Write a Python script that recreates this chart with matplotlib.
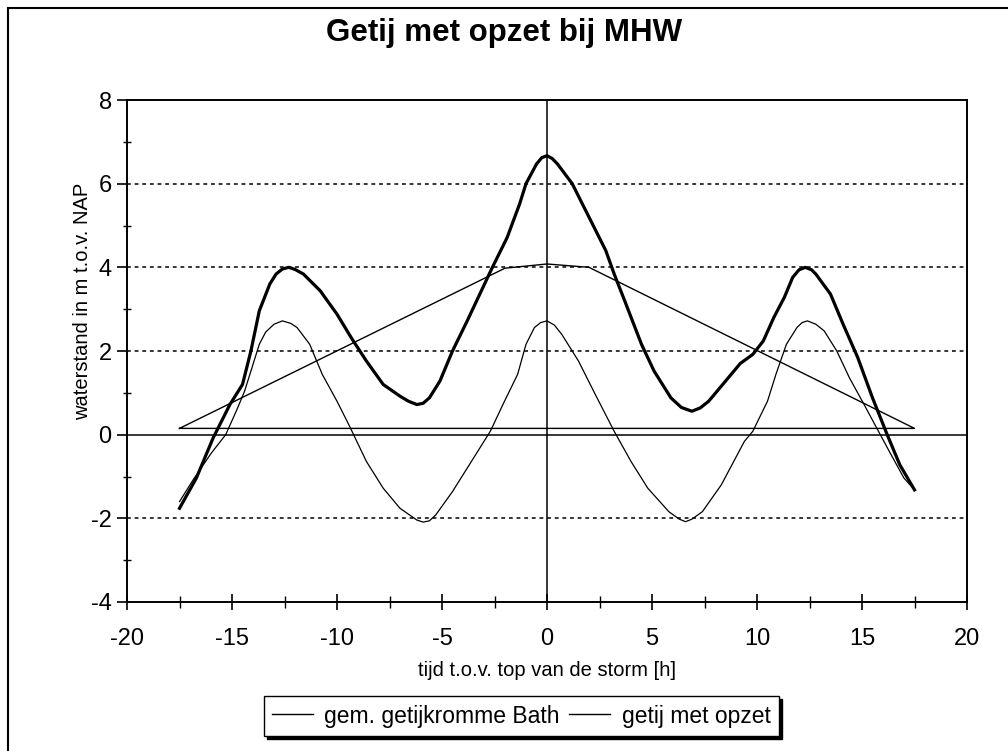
import matplotlib
matplotlib.use("Agg")
import matplotlib.pyplot as plt
from matplotlib.patches import Rectangle
from matplotlib.ticker import MultipleLocator

plt.rcParams['font.family'] = ['Liberation Sans', 'DejaVu Sans']
plt.rcParams['axes.unicode_minus'] = False

# ---- data ----
t_bath = [-17.5, -16.8, -16.0, -15.3, -14.8, -14.4, -14.0, -13.7, -13.4, -13.0, -12.6,
          -12.2, -11.9, -11.3, -10.7, -10.0, -9.4, -8.6, -7.8, -7.0, -6.2, -5.9, -5.6,
          -5.3, -4.5, -3.7, -2.7, -2.1, -1.4, -1.0, -0.6, -0.3, 0.0, 0.35, 0.7, 1.5,
          2.3, 3.2, 4.0, 4.8, 5.8, 6.3, 6.6, 6.9, 7.4, 8.3, 9.4, 9.8, 10.5, 10.9, 11.4,
          11.9, 12.15, 12.4, 12.8, 13.2, 13.8, 14.4, 15.1, 15.7, 16.3, 17.0, 17.5]
h_bath = [-1.6, -1.04, -0.45, 0.0, 0.56, 1.04, 1.68, 2.16, 2.45, 2.64, 2.72,
          2.66, 2.56, 2.16, 1.44, 0.8, 0.2, -0.64, -1.28, -1.76, -2.04, -2.09, -2.06,
          -1.92, -1.36, -0.72, 0.08, 0.72, 1.44, 2.16, 2.56, 2.68, 2.72, 2.62, 2.4, 1.76,
          0.96, 0.08, -0.64, -1.28, -1.84, -2.02, -2.08, -2.02, -1.84, -1.2, -0.16, 0.08,
          0.8, 1.44, 2.16, 2.56, 2.68, 2.72, 2.64, 2.48, 2.0, 1.36, 0.72, 0.16, -0.4,
          -1.04, -1.32]

t_storm = [-17.5, -16.7, -15.9, -15.1, -14.5, -14.1, -13.7, -13.2, -12.9, -12.6, -12.3,
           -12.0, -11.6, -10.8, -10.0, -9.3, -8.6, -7.8, -7.0, -6.6, -6.2, -5.9, -5.6,
           -5.1, -4.5, -3.8, -3.2, -2.6, -1.9, -1.3, -1.0, -0.5, -0.25, 0.0, 0.25, 0.5,
           1.2, 2.0, 2.8, 3.2, 3.7, 4.5, 5.1, 5.9, 6.4, 6.9, 7.3, 7.7, 8.5, 9.2, 9.8,
           10.3, 10.8, 11.3, 11.7, 12.0, 12.3, 12.6, 12.8, 13.5, 14.1, 14.8, 15.5, 16.2,
           16.8, 17.5]
h_storm = [-1.76, -1.04, -0.08, 0.72, 1.2, 2.0, 2.96, 3.6, 3.84, 3.96, 4.0,
           3.95, 3.84, 3.44, 2.88, 2.3, 1.76, 1.2, 0.92, 0.8, 0.72, 0.75, 0.88,
           1.28, 2.0, 2.72, 3.36, 4.0, 4.71, 5.52, 6.0, 6.47, 6.62, 6.67, 6.6, 6.47,
           6.0, 5.2, 4.4, 3.84, 3.2, 2.16, 1.52, 0.88, 0.65, 0.56, 0.64, 0.8, 1.28, 1.7,
           1.92, 2.24, 2.8, 3.28, 3.76, 3.94, 4.0, 3.94, 3.84, 3.36, 2.64, 1.84, 0.88,
           0.0, -0.72, -1.32]

t_surge = [-17.5, -2.0, 0.0, 2.0, 17.5, -17.5]
h_surge = [0.15, 3.98, 4.08, 4.0, 0.15, 0.15]

grid_levels = [-2, 2, 4, 6]
x_ticks = [-20, -15, -10, -5, 0, 5, 10, 15, 20]
y_ticks = [-4, -2, 0, 2, 4, 6, 8]

title = "Getij met opzet bij MHW"
xlabel = "tijd t.o.v. top van de storm [h]"
ylabel = "waterstand in m t.o.v. NAP"
labels = ["gem. getijkromme Bath", "getij met opzet"]

# ---- figure ----
W, H = 1008, 751
fig = plt.figure(figsize=(W / 100, H / 100), dpi=100)
ax = fig.add_axes([127 / W, 1 - 602 / H, (967 - 127) / W, (602 - 100) / H])

for g in grid_levels:
    ax.axhline(g, color='black', lw=1.1, ls=(0, (2.5, 2.5)), zorder=1)
ax.axhline(0, color='black', lw=1.1, zorder=1)
ax.axvline(0, color='black', lw=1.1, zorder=1)

ax.plot(t_surge, h_surge, color='black', lw=1.0, zorder=2)
l1, = ax.plot(t_bath, h_bath, color='black', lw=0.9, zorder=3, label=labels[0])
l2, = ax.plot(t_storm, h_storm, color='black', lw=2.3, zorder=4, label=labels[1],
              solid_joinstyle='round')

ax.set_xlim(-20, 20)
ax.set_ylim(-4, 8)
ax.set_xticks(x_ticks)
ax.set_yticks(y_ticks)
ax.xaxis.set_minor_locator(MultipleLocator(2.5))
ax.yaxis.set_minor_locator(MultipleLocator(1))
ax.tick_params(axis='x', which='major', direction='inout', length=12, width=1.2,
               labelsize=17, pad=13)
ax.tick_params(axis='x', which='minor', direction='inout', length=8, width=1.0)
ax.tick_params(axis='y', which='major', direction='out', length=7, width=1.2,
               labelsize=17, pad=4)
ax.tick_params(axis='y', which='minor', direction='inout', length=6, width=1.0)
for s in ax.spines.values():
    s.set_linewidth(1.4)
    s.set_color('black')

ax.set_xlabel(xlabel, fontsize=14.5, labelpad=8)
ax.set_ylabel(ylabel, fontsize=14.5)
ax.yaxis.set_label_coords((92 - 127) / 840, (602 - 301) / 502)
fig.text(0.5, 1 - 33 / H, title, ha='center', va='center', fontsize=22.5,
         fontweight='bold')

leg = fig.legend([l1, l2], labels, loc='center', bbox_to_anchor=(521 / W, 1 - 716 / H),
                 ncol=2, fontsize=16.5, frameon=True, fancybox=False, framealpha=1,
                 edgecolor='black', handlelength=1.8, handletextpad=0.5,
                 columnspacing=0.4, borderpad=0.35, borderaxespad=0)
leg.get_frame().set_linewidth(1.0)
leg.set_zorder(5)
for h in leg.legend_handles:
    h.set_linewidth(1.0)

fig.canvas.draw()
bb = leg.get_window_extent()
sh = fig.transFigure.inverted()
x0, y0 = sh.transform((bb.x0 + 3, bb.y0 - 3))
x1, y1 = sh.transform((bb.x1 + 3, bb.y1 - 3))
fig.patches.append(Rectangle((x0, y0), x1 - x0, y1 - y0, transform=fig.transFigure,
                             facecolor='black', edgecolor='black', zorder=4))

# outer frame (top and left visible)
fig.patches.append(Rectangle((8 / W, -0.05), 1.2, 1 - 8 / H + 0.05,
                             transform=fig.transFigure, fill=False,
                             edgecolor='black', lw=1.5, zorder=0))

fig.savefig("out.png", dpi=100)
